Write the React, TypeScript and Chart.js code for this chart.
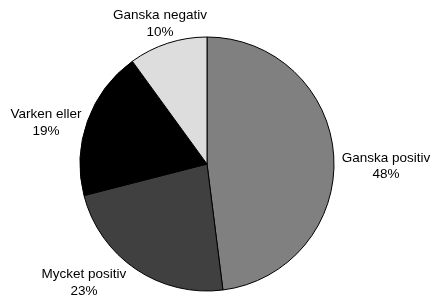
import React, { useEffect, useRef } from "react";
import { Chart, registerables } from "chart.js";

Chart.register(...registerables);

const categories = ["Ganska positiv", "Mycket positiv", "Varken eller", "Ganska negativ"];
const values = [48, 23, 19, 10];
const sliceColors = ["#808080", "#404040", "#000000", "#dddddd"];
// label placement nudges (px) relative to the computed outside anchor
const labelNudges: [number, number][] = [
  [2, 11],
  [-24.5, -4],
  [-2.4, 8.5],
  [8.6, 0],
];

const FONT = "13.5px 'Liberation Sans', Arial, sans-serif";
const LINE_H = 16.5;

const outsideLabels = {
  id: "outsideLabels",
  afterDraw(chart: any) {
    const ctx = chart.ctx;
    const meta = chart.getDatasetMeta(0);
    ctx.save();
    ctx.font = FONT;
    ctx.fillStyle = "#000";
    ctx.textAlign = "center";
    ctx.textBaseline = "alphabetic";
    meta.data.forEach((arc: any, i: number) => {
      const { x, y, startAngle, endAngle, outerRadius } = arc.getProps(
        ["x", "y", "startAngle", "endAngle", "outerRadius"],
        true
      );
      const mid = (startAngle + endAngle) / 2;
      const c = Math.cos(mid);
      const s = Math.sin(mid);
      const ax = x + (outerRadius + 6) * c;
      const ay = y + (outerRadius + 6) * s;
      const line1 = categories[i];
      const line2 = values[i] + "%";
      const w = Math.max(ctx.measureText(line1).width, ctx.measureText(line2).width);
      const h = 30;
      const cx = ax + (w / 2) * c + labelNudges[i][0];
      const cy = ay + (h / 2) * s;
      const b1 = cy - 4 + labelNudges[i][1];
      ctx.fillText(line1, cx, b1);
      ctx.fillText(line2, cx, b1 + LINE_H);
    });
    ctx.restore();
  },
};

export default function App() {
  const ref = useRef<HTMLCanvasElement | null>(null);
  useEffect(() => {
    document.body.style.margin = "0";
    const chart = new Chart(ref.current as HTMLCanvasElement, {
      type: "pie",
      data: {
        labels: categories,
        datasets: [
          {
            data: values,
            backgroundColor: sliceColors,
            borderColor: "#000000",
            borderWidth: 1,
          },
        ],
      },
      options: {
        animation: false,
        responsive: false,
        radius: 127,
        layout: { padding: { top: 33, bottom: 0, left: 0, right: 17 } },
        plugins: {
          legend: { display: false },
          tooltip: { enabled: false },
        },
        events: [],
      } as any,
      plugins: [outsideLabels],
    });
    return () => chart.destroy();
  }, []);
  return (
    <div style={{ width: 431, height: 295, background: "#fff" }}>
      <canvas ref={ref} width={431} height={295} style={{ display: "block" }} />
    </div>
  );
}
